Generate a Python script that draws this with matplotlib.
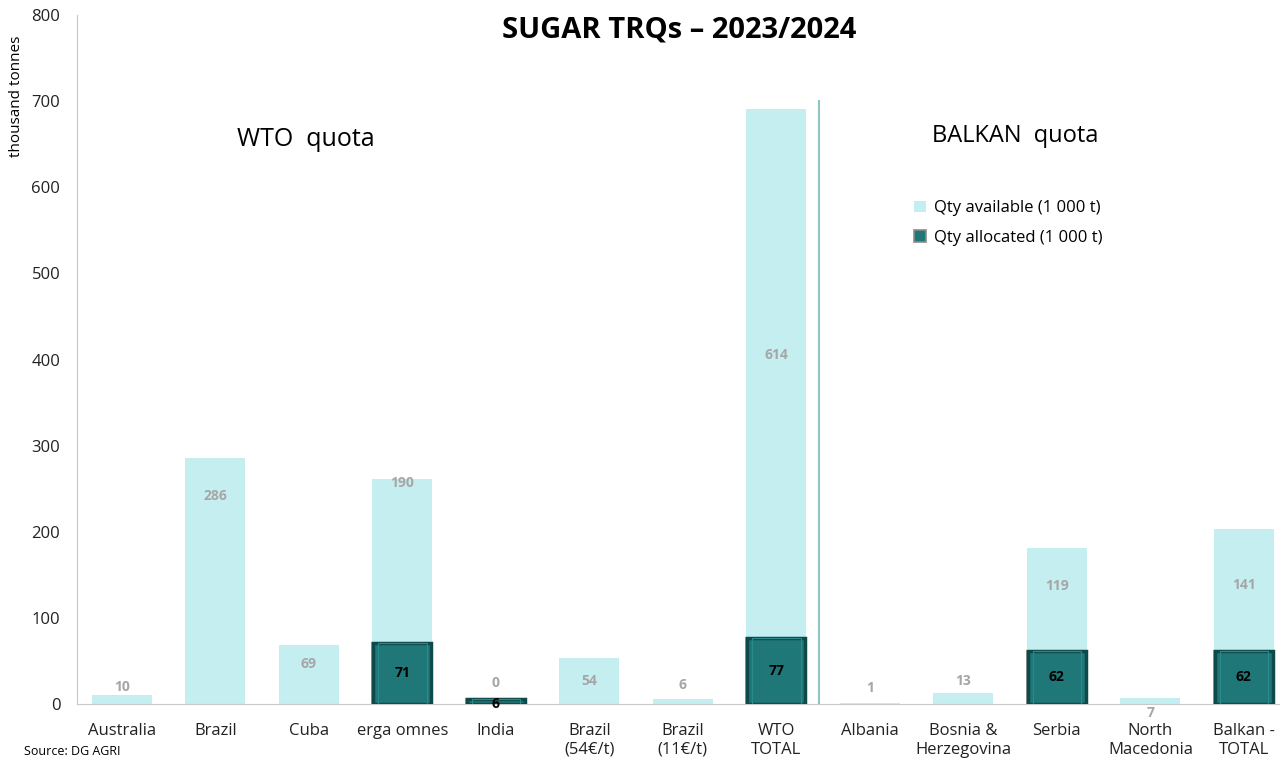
import numpy as np
import matplotlib.pyplot as plt

categories = ['Australia', 'Brazil', 'Cuba', 'erga omnes', 'India', 'Brazil\n(54€/t)',
              'Brazil\n(11€/t)', 'WTO\nTOTAL', 'Albania', 'Bosnia &\nHerzegovina', 'Serbia',
              'North\nMacedonia', 'Balkan -\nTOTAL']
allocated = [0, 0, 0, 71, 6, 0, 0, 77, 0, 0, 62, 0, 62]
available = [10, 286, 69, 190, 0, 54, 6, 614, 1, 13, 119, 7, 141]
# where the "available" labels sit (hand placed in the original)
avail_label_y = [20, 241, 46, 257, 24, 27, 22, 405, 19, 27, 137, -10, 138]

light = '#c5eef0'
dark = '#1f7778'

plt.rcParams['font.family'] = ['Open Sans', 'DejaVu Sans']

fig = plt.figure(figsize=(12.82, 7.65), dpi=100)
ax = fig.add_axes([0.060, 0.0797, 0.938, 0.9007])

x = np.arange(len(categories))
alloc = np.array(allocated)
avail = np.array(available)
has = alloc > 0

ax.bar(x, avail, 0.64, bottom=alloc, color=light, label='Qty available (1 000 t)', zorder=2)
ax.bar(x[has], alloc[has], 0.64, color=dark, edgecolor='#8c8c8c', linewidth=1.2,
       label='Qty allocated (1 000 t)', zorder=3)
# bevel look on the dark bars
ax.bar(x[has], alloc[has], 0.62, color='none', edgecolor='#0f4a4b', linewidth=2.5, zorder=4)
ax.bar(x[has], alloc[has], 0.52, color='none', edgecolor='#2a8a8b', linewidth=0.8, zorder=4)

for i in range(len(categories)):
    ax.text(x[i], avail_label_y[i], str(available[i]), ha='center', va='center',
            fontsize=10, fontweight='bold', color='#a6a6a6', zorder=5)
    if allocated[i] > 0:
        ax.text(x[i], allocated[i] / 2 if allocated[i] > 20 else 0, str(allocated[i]),
                ha='center', va='center', fontsize=10, fontweight='bold', color='black', zorder=5)

ax.plot([7.46, 7.46], [0, 700], color='#8fc4c6', linewidth=1.5, zorder=1)

ax.set_xlim(-0.48, 12.38)
ax.set_ylim(0, 800)
ax.set_yticks(range(0, 801, 100))
ax.set_xticks(x)
ax.set_xticklabels(categories, fontsize=12)
ax.tick_params(axis='both', length=0, labelsize=12, colors='#222222')
ax.tick_params(axis='x', pad=14)
ax.tick_params(axis='y', pad=12)
for s in ['top', 'right']:
    ax.spines[s].set_visible(False)
ax.spines['left'].set_color('#c8c8c8')
ax.spines['bottom'].set_color('#c8c8c8')

ax.text(0.19, 0.82, 'WTO  quota', transform=ax.transAxes, fontsize=18, ha='center', va='center')
ax.text(0.78, 0.825, 'BALKAN  quota', transform=ax.transAxes, fontsize=17, ha='center', va='center')

fig.text(0.53, 0.961, 'SUGAR TRQs \u2013 2023/2024', ha='center', va='center',
         fontsize=21, fontweight='bold')
fig.text(0.013, 0.874, 'thousand tonnes', rotation=90, ha='center', va='center', fontsize=11)
fig.text(0.019, 0.017, 'Source: DG AGRI', fontsize=9, ha='left', va='center')

ax.legend(loc='upper left', bbox_to_anchor=(0.684, 0.753), frameon=False, fontsize=12,
          handlelength=0.7, handleheight=0.7, handletextpad=0.5, labelspacing=0.8)

plt.savefig('out.png')
